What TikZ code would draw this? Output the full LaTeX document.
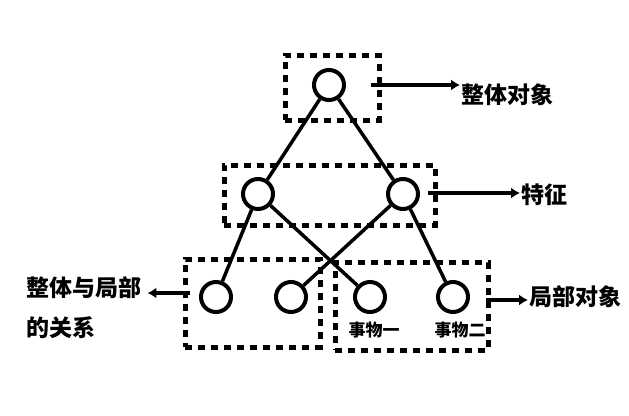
\documentclass[tikz,border=0pt]{standalone}
\usepackage{fontspec}
\newfontfamily\cjk{Noto Sans CJK SC}
\usetikzlibrary{arrows.meta,positioning,calc}
\tikzset{
  vert/.style={circle,draw=black,line width=4pt,minimum size=30pt,inner sep=0pt},
  group/.style={rectangle,draw=black,line width=5pt,dash pattern=on 7pt off 6pt,inner sep=0pt},
  link/.style={line width=3.5pt},
  arrow/.style={-{Latex[length=9pt,width=11pt]},line width=4pt},
  lbl/.style={font=\cjk\bfseries\fontsize{23}{40}\selectfont,inner sep=1pt},
  tag/.style={font=\cjk\bfseries\fontsize{17}{20}\selectfont,inner sep=1pt}
}
\begin{document}
\begin{tikzpicture}[x=1pt,y=-1pt]
  \useasboundingbox (0,0) rectangle (629,415);

  \node[group,minimum width=94pt,minimum height=65pt] (topbox) at (332,87.5) {};
  \node[group,minimum width=211pt,minimum height=60pt] (midbox) at (329.5,195) {};
  \node[group,minimum width=135pt,minimum height=88pt] (leftbox) at (252.5,303) {};
  \node[group,minimum width=153pt,minimum height=88pt] (rightbox) at (411.5,306) {};

  \node[vert] (top) at (329,85) {};
  \node[vert] (ml) at (258,194) {};
  \node[vert] (mr) at (403,194) {};
  \node[vert] (b1) at (216,297) {};
  \node[vert] (b2) at (291,297) {};
  \node[vert] (b3) at (370,297) {};
  \node[vert] (b4) at (453,297) {};

  \node[tag,below=7pt of b3,xshift=4pt] (thing1) {事物一};
  \node[tag,below=7pt of b4,xshift=7pt] (thing2) {事物二};

  \node[lbl,anchor=west] (whole) at (460,95) {整体对象};
  \node[lbl,anchor=west] (feature) at (520,195) {特征};
  \node[lbl,anchor=west] (parts) at (528,297) {局部对象};
  \node[lbl,anchor=west,align=left] (relation) at (25,308) {整体与局部\\的关系};

  \draw[link] (top) -- (ml);
  \draw[link] (top) -- (mr);
  \draw[link] (ml) -- (b1);
  \draw[link] (ml) -- (b3);
  \draw[link] (mr) -- (b2);
  \draw[link] (mr) -- (b4);

  \draw[arrow] ($(topbox.east |- top)+(-11,0)$) -- (whole.west |- top);
  \draw[arrow] ($(midbox.east |- mr)+(-10,-1)$) -- ($(feature.west |- mr)+(0,-1)$);
  \draw[arrow] ($(rightbox.east |- b4)+(-5,3)$) -- ($(parts.west |- b4)+(0,3)$);
  \draw[arrow] ($(leftbox.west |- b1)+(7,-4)$) -- ($(relation.east |- b1)+(5,-4)$);
\end{tikzpicture}
\end{document}
